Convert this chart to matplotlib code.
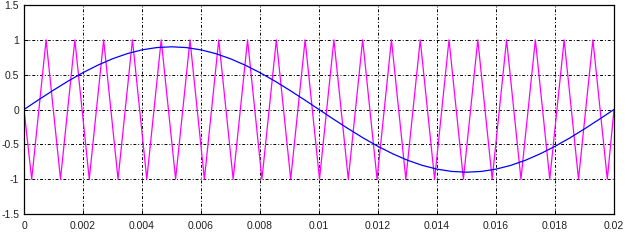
import numpy as np
import matplotlib
matplotlib.use('Agg')
import matplotlib.pyplot as plt

# Modulating sine, read every 0.0005 s
sine_t = [i * 0.0005 for i in range(41)]
sine_v = [0.0, 0.141, 0.278, 0.409, 0.529, 0.636, 0.728, 0.802, 0.856, 0.889,
          0.9, 0.889, 0.856, 0.802, 0.728, 0.636, 0.529, 0.409, 0.278, 0.141,
          0.0, -0.141, -0.278, -0.409, -0.529, -0.636, -0.728, -0.802, -0.856, -0.889,
          -0.9, -0.889, -0.856, -0.802, -0.728, -0.636, -0.529, -0.409, -0.278, -0.141,
          0.0]

# Triangle carrier vertices (troughs / peaks)
tri_t = [0.0,
         0.000261, 0.000749, 0.001237, 0.001724, 0.002212, 0.002700, 0.003188,
         0.003676, 0.004163, 0.004651, 0.005139, 0.005627, 0.006115, 0.006602,
         0.007090, 0.007578, 0.008066, 0.008554, 0.009041, 0.009529, 0.010017,
         0.010505, 0.010993, 0.011480, 0.011968, 0.012456, 0.012944, 0.013432,
         0.013919, 0.014407, 0.014895, 0.015383, 0.015871, 0.016358, 0.016846,
         0.017334, 0.017822, 0.018310, 0.018797, 0.019285, 0.019773,
         0.02]
tri_v = [0,
         -1, 1, -1, 1, -1, 1, -1, 1, -1, 1,
         -1, 1, -1, 1, -1, 1, -1, 1, -1, 1,
         -1, 1, -1, 1, -1, 1, -1, 1, -1, 1,
         -1, 1, -1, 1, -1, 1, -1, 1, -1, 1,
         -1,
         0]

x_ticks = [0, 0.002, 0.004, 0.006, 0.008, 0.01, 0.012, 0.014, 0.016, 0.018, 0.02]
x_labels = ['0', '0.002', '0.004', '0.006', '0.008', '0.01', '0.012', '0.014',
            '0.016', '0.018', '0.02']
y_ticks = [-1.5, -1, -0.5, 0, 0.5, 1, 1.5]
y_labels = ['-1.5', '-1', '-0.5', '0', '0.5', '1', '1.5']

plt.rcParams['font.family'] = ['Liberation Sans', 'DejaVu Sans']

fig = plt.figure(figsize=(6.43, 2.41), dpi=100)
ax = fig.add_axes([24 / 643, 27 / 241, 590 / 643, 209 / 241])

ax.plot(tri_t, tri_v, color='#ff00ff', lw=0.9)
ax.plot(sine_t, sine_v, color='#0000ff', lw=0.9)

ax.set_xlim(0, 0.02)
ax.set_ylim(-1.5, 1.5)
ax.set_xticks(x_ticks)
ax.set_xticklabels(x_labels)
ax.set_yticks(y_ticks)
ax.set_yticklabels(y_labels)
ax.grid(True, color='black', lw=0.7, linestyle=(0, (3, 2, 1, 2)))
ax.tick_params(direction='in', length=3, width=0.7, labelsize=7.5,
               labelcolor='#222222')
ax.tick_params(axis='x', pad=5)
ax.tick_params(axis='y', pad=3.5)
for s in ax.spines.values():
    s.set_linewidth(0.9)

fig.savefig('out.png', dpi=100)
